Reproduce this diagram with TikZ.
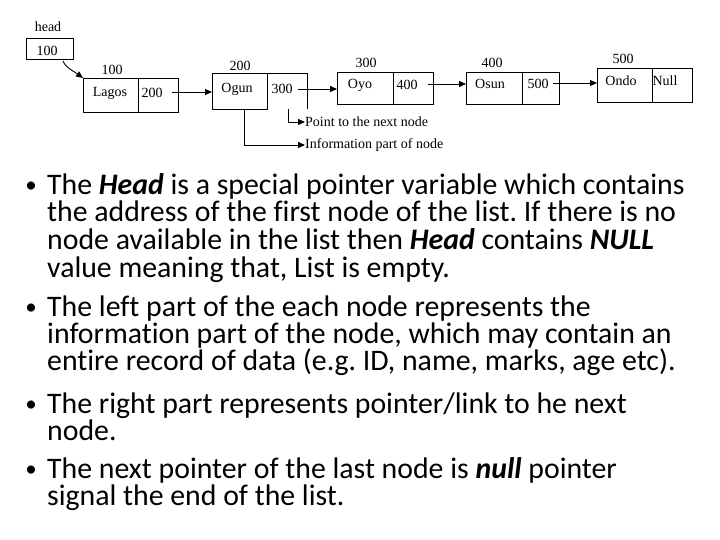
\documentclass[tikz,border=0pt]{standalone}
\usepackage{fontspec}
\setmainfont[Ligatures=NoCommon]{Carlito}
\newfontfamily\dfont{Liberation Serif}
\usetikzlibrary{arrows.meta,calc}
\newcommand{\bi}[1]{\textbf{\textit{#1}}}
\frenchspacing
\tikzset{
  cell/.style={draw, line width=0.9pt, minimum width=#1, minimum height=34pt, inner sep=0pt, anchor=north west},
  cellnb/.style={minimum width=#1, minimum height=36pt, inner sep=0pt, anchor=north west},
  lbl/.style={font=\dfont\fontsize{14}{16}\selectfont, inner sep=0pt},
  ptr/.style={line width=0.9pt, -{Triangle[length=7pt,width=6pt]}},
  bline/.style={font=\fontsize{29.8}{32}\selectfont, inner sep=0pt, anchor=base west},
  bullet/.style={font=\fontsize{23}{26}\selectfont, inner sep=0pt, anchor=base}
}
\begin{document}
\begin{tikzpicture}[x=1pt,y=-1pt]
\useasboundingbox (0,0) rectangle (720,540);
% head
\node[lbl] (headlbl) at (48,27) {head};
\node[cell=47pt, minimum height=21pt] (head) at (26,38) {};
\node[lbl] (headval) at (47,51) {100};
% Lagos node
\node[cell=55pt] (lagosA) at (83,78) {};
\node[cell=40pt] (lagosB) at (138,78) {};
\node[lbl] (lagosT) at (110,93) {Lagos};
\node[lbl] (lagosP) at (152,93) {200};
\node[lbl] (addr1) at (112,70) {100};
% Ogun node
\node[cell=55pt, minimum height=36pt] (ogunA) at (212,73) {};
\node[cellnb=40pt] (ogunB) at (267,73) {};
\draw[line width=0.9pt] (ogunB.south east) -- (ogunB.north east) -- (ogunB.north west);
\node[lbl] (ogunT) at (237,89) {Ogun};
\node[lbl] (ogunP) at (282,89) {300};
\node[lbl] (addr2) at (240,66) {200};
% Oyo node
\node[cell=56pt, minimum height=32pt] (oyoA) at (337,72) {};
\node[cell=40pt, minimum height=32pt] (oyoB) at (393,72) {};
\node[lbl] (oyoT) at (360,85) {Oyo};
\node[lbl] (oyoP) at (407,85) {400};
\node[lbl] (addr3) at (366,63) {300};
% Osun node
\node[cell=56pt, minimum height=32pt] (osunA) at (466,72) {};
\node[cell=37pt, minimum height=32pt] (osunB) at (522,72) {};
\node[lbl] (osunT) at (490,84) {Osun};
\node[lbl] (osunP) at (538,84) {500};
\node[lbl] (addr4) at (492,63) {400};
% Ondo node
\node[cell=55pt] (ondoA) at (597,68) {};
\node[cell=40pt] (ondoB) at (652,68) {};
\node[lbl] (ondoT) at (621,81) {Ondo};
\node[lbl] (ondoP) at (665,81) {Null};
\node[lbl] (addr5) at (623,59) {500};
% pointer start points
\coordinate (s0) at (63,61);
\coordinate (s1) at (172,92);
\coordinate (s2) at (298,89);
\coordinate (s3) at (428,84);
\coordinate (s4) at (553,83);
\draw[ptr] (s0) .. controls (66,68) and (72,70) .. (lagosA.north west);
\draw[ptr] (s1) -- (s1 -| ogunA.west);
\draw[ptr] (s2) -- (s2 -| oyoA.west);
\draw[ptr] (s3) -- (s3 -| osunA.west);
\draw[ptr] (s4) -- (s4 -| ondoA.west);
% legend
\node[lbl, anchor=west] (ptxt) at (305,122) {Point to the next node};
\node[lbl, anchor=west] (itxt) at (305,145) {Information part of node};
\coordinate (lp) at (288,109);
\coordinate (li) at (244,109);
\draw[ptr] (lp) |- (ptxt.west);
\draw[ptr] (li) |- (itxt.west);
% bullets
\node[bullet] (b1) at (31,193) {•};
\node[bullet] (b2) at (31,314) {•};
\node[bullet] (b3) at (31,411) {•};
\node[bullet] (b4) at (31,476) {•};
\node[bline] (t1) at (47,195) {The \bi{Head} is a special pointer variable which contains};
\node[bline] (t2) at (47,222) {the address of the first node of the list. If there is no};
\node[bline] (t3) at (47,249.5) {node available in the list then \bi{Head} contains \bi{NULL}};
\node[bline] (t4) at (47,277) {value meaning that, List is empty.};
\node[bline] (t5) at (47,316) {The left part of the each node represents the};
\node[bline] (t6) at (47,343) {information part of the node, which may contain an};
\node[bline] (t7) at (47,370.5) {entire record of data (e.g. ID, name, marks, age etc).};
\node[bline] (t8) at (47,413) {The right part represents pointer/link to he next};
\node[bline] (t9) at (47,440.5) {node.};
\node[bline] (t10) at (47,478) {The next pointer of the last node is \bi{null} pointer};
\node[bline] (t11) at (47,505) {signal the end of the list.};
\end{tikzpicture}
\end{document}
